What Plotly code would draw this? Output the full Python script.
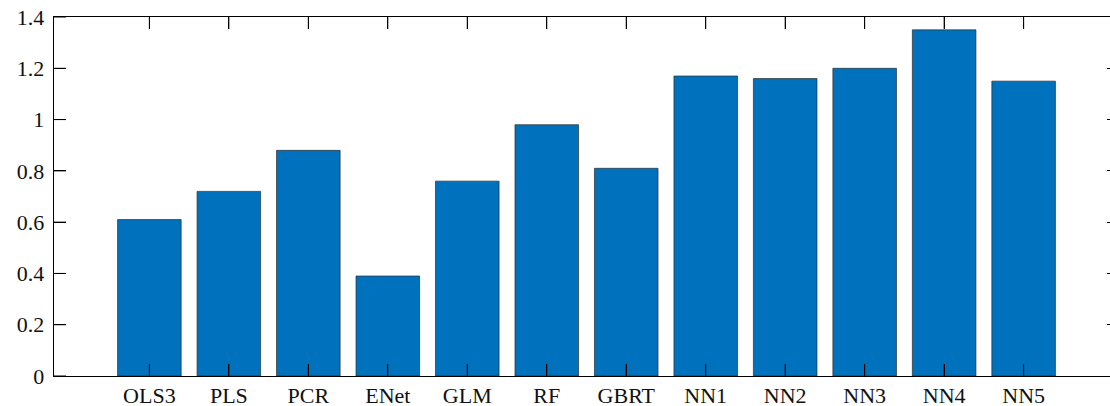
import plotly.graph_objects as go

categories = ["OLS3", "PLS", "PCR", "ENet", "GLM", "RF", "GBRT", "NN1", "NN2", "NN3", "NN4", "NN5"]
values = [0.61, 0.72, 0.88, 0.39, 0.76, 0.98, 0.81, 1.17, 1.16, 1.20, 1.35, 1.15]
ytick_vals = [0, 0.2, 0.4, 0.6, 0.8, 1.0, 1.2, 1.4]
ytick_text = ["0", "0.2", "0.4", "0.6", "0.8", "1", "1.2", "1.4"]

FONT = "Liberation Serif, Times New Roman, serif"
W, H = 1119, 406
ML, MR, MT, MB = 54, 0, 17, 30
XRANGE = [-1.2, 12.2]
YRANGE = [0, 1.4001]
TICKLEN = 12

# size of one pixel in data units (used for the inward tick marks)
ux = (XRANGE[1] - XRANGE[0]) / (W - ML - MR)
uy = (YRANGE[1] - YRANGE[0]) / (H - MT - MB)
cat_pos = list(range(len(categories)))

fig = go.Figure()
fig.add_trace(go.Bar(
    x=categories, y=values, width=0.8,
    marker=dict(color="#0072BD", line=dict(color="rgba(40,40,40,0.85)", width=0.8)),
    showlegend=False, hoverinfo="skip",
))

# inward tick marks on left, bottom and top, built from the tick arrays
tx, ty = [], []
for v in ytick_vals:
    tx += [XRANGE[0], XRANGE[0] + TICKLEN * ux, None]
    ty += [v, v, None]
for p in cat_pos:
    tx += [p, p, None]
    ty += [YRANGE[0], YRANGE[0] + TICKLEN * uy, None]
    tx += [p, p, None]
    ty += [YRANGE[1], YRANGE[1] - TICKLEN * uy, None]
fig.add_trace(go.Scatter(
    x=tx, y=ty, xaxis="x2", yaxis="y2", mode="lines",
    line=dict(color="black", width=1), cliponaxis=False,
    showlegend=False, hoverinfo="skip",
))

common = dict(showline=True, linecolor="black", linewidth=1, ticks="inside", ticklen=TICKLEN,
              tickcolor="black", tickwidth=1, showgrid=False, zeroline=False)

fig.update_layout(
    width=W, height=H,
    margin=dict(l=ML, r=MR, t=MT, b=MB, autoexpand=False),
    paper_bgcolor="white", plot_bgcolor="white",
    font=dict(family=FONT, size=22, color="black"),
    xaxis=dict(type="category", range=XRANGE,
               tickfont=dict(family=FONT, size=22, color="#111"), **common),
    yaxis=dict(range=YRANGE, tickvals=ytick_vals,
               ticktext=[t + "\u2009" for t in ytick_text],
               tickfont=dict(family=FONT, size=22, color="#111"), **common),
    xaxis2=dict(type="linear", range=XRANGE, tickvals=cat_pos, overlaying="x", side="top",
                showticklabels=False, **common),
    yaxis2=dict(type="linear", range=YRANGE, tickvals=ytick_vals, overlaying="y", side="right",
                showticklabels=False, **common),
)

fig.write_html(
    "out.html",
    config={"displayModeBar": False},
    post_script="document.body.style.margin='0px';document.body.style.overflow='hidden';",
)
